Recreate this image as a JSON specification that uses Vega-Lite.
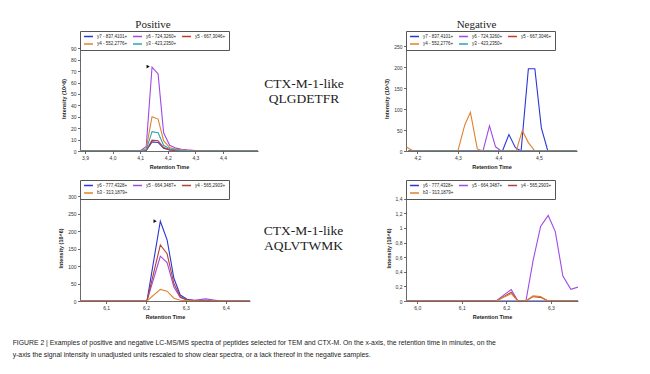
{
  "$schema": "https://vega.github.io/schema/vega-lite/v6.json",
  "background": "white",
  "padding": {"left": 12, "top": 19, "right": 5, "bottom": 5},
  "title": {
    "text": ["FIGURE 2 | Examples of positive and negative LC-MS/MS spectra of peptides selected for TEM and CTX-M. On the x-axis, the retention time in minutes, on the", "y-axis the signal intensity in unadjusted units rescaled to show clear spectra, or a lack thereof in the negative samples."],
    "orient": "bottom", "anchor": "start", "dx": -46, "offset": 20,
    "font": "Liberation Sans", "fontSize": 6.85, "fontWeight": "normal", "color": "#222", "lineHeight": 12.7
  },
  "bounds": "flush",
  "align": "none",
  "columns": 3,
  "spacing": {"row": 44, "column": 0},
  "resolve": {"scale": {"color": "independent"}, "legend": {"color": "independent"}},
  "concat": [
    {
      "width": 178, "height": 105,
      "title": {"text": "Positive", "dx": -16, "offset": 0.5},
      "encoding": {
        "x": {"field": "t", "type": "quantitative", "scale": {"domain": [3.882, 4.527], "nice": false, "zero": false},
              "axis": {"title": "Retention Time", "values": [3.9, 4.0, 4.1, 4.2, 4.3, 4.4], "labelOverlap": false, "labelExpr": "replace(format(datum.value, '.1f'), '.', ',')"}},
        "y": {"field": "i", "type": "quantitative", "scale": {"domain": [0, 92], "nice": false},
              "axis": {"title": "Intensity (10^6)", "values": [0, 10, 20, 30, 40, 50, 60, 70, 80, 90], "labelOverlap": false}}
      },
      "layer": [
        {
          "data": {"name": "pos1"},
          "mark": {"type": "line", "strokeWidth": 1.1, "clip": true},
          "encoding": {
            "color": {"field": "ion", "type": "nominal",
                      "scale": {"domain": ["y7 - 837,4101+", "y6 - 724,3260+", "y5 - 667,3046+", "y4 - 552,2776+", "y3 - 423,2350+"],
                                "range": ["#2b35d6", "#a04ae6", "#c23b22", "#e0822e", "#2fa3b5"]}}
          }
        },
        {
          "data": {"name": "mk1"},
          "mark": {"type": "point", "shape": "triangle-right", "filled": true, "color": "#111", "size": 14, "opacity": 1}
        }
      ]
    },
    {
      "width": 148, "height": 105,
      "data": {"values": [{"n": 1, "c": 0, "label": "CTX-M-1-like"}, {"n": 2, "c": 0, "label": "QLGDETFR"}]},
      "mark": {"type": "text", "font": "Liberation Serif", "fontSize": 13.5, "color": "#222"},
      "encoding": {
        "text": {"field": "label"},
        "x": {"field": "c", "type": "quantitative", "scale": {"domain": [-0.3108, 0.6892], "nice": false, "zero": false}, "axis": null},
        "y": {"field": "n", "type": "quantitative", "scale": {"domain": [-1.55, 5.45], "nice": false, "zero": false, "reverse": true}, "axis": null}
      }
    },
    {
      "width": 171, "height": 105,
      "title": {"text": "Negative", "dx": -15, "offset": 0.5},
      "data": {"name": "neg1"},
      "mark": {"type": "line", "strokeWidth": 1.1, "clip": true},
      "encoding": {
        "x": {"field": "t", "type": "quantitative", "scale": {"domain": [4.172, 4.594], "nice": false, "zero": false},
              "axis": {"title": "Retention Time", "values": [4.2, 4.3, 4.4, 4.5], "labelExpr": "replace(format(datum.value, '.1f'), '.', ',')"}},
        "y": {"field": "i", "type": "quantitative", "scale": {"domain": [0, 250], "nice": false},
              "axis": {"title": "Intensity (10^3)", "values": [0, 50, 100, 150, 200, 250]}},
        "color": {"field": "ion", "type": "nominal",
                  "scale": {"domain": ["y7 - 837,4101+", "y6 - 724,3260+", "y5 - 667,3046+", "y4 - 552,2776+", "y3 - 423,2350+"],
                            "range": ["#2b35d6", "#a04ae6", "#c23b22", "#e0822e", "#2fa3b5"]}}
      }
    },
    {
      "width": 170, "height": 106,
      "encoding": {
        "x": {"field": "t", "type": "quantitative", "scale": {"domain": [6.0345, 6.461], "nice": false, "zero": false},
              "axis": {"title": "Retention Time", "values": [6.1, 6.2, 6.3, 6.4], "labelOverlap": false, "labelExpr": "replace(format(datum.value, '.1f'), '.', ',')"}},
        "y": {"field": "i", "type": "quantitative", "scale": {"domain": [0, 303], "nice": false},
              "axis": {"title": "Intensity (10^6)", "values": [0, 50, 100, 150, 200, 250, 300], "labelOverlap": false}}
      },
      "layer": [
        {
          "data": {"name": "pos2"},
          "mark": {"type": "line", "strokeWidth": 1.1, "clip": true},
          "encoding": {
            "color": {"field": "ion", "type": "nominal",
                      "scale": {"domain": ["y6 - 777,4328+", "y5 - 664,3487+", "y4 - 565,2903+", "b3 - 313,1879+"],
                                "range": ["#2b35d6", "#a04ae6", "#b5432f", "#e0822e"]}}
          }
        },
        {
          "data": {"name": "mk2"},
          "mark": {"type": "point", "shape": "triangle-right", "filled": true, "color": "#111", "size": 14, "opacity": 1}
        }
      ]
    },
    {
      "width": 148, "height": 106,
      "data": {"values": [{"n": 1, "c": 0, "label": "CTX-M-1-like"}, {"n": 2, "c": 0, "label": "AQLVTWMK"}]},
      "mark": {"type": "text", "font": "Liberation Serif", "fontSize": 13.5, "color": "#222"},
      "encoding": {
        "text": {"field": "label"},
        "x": {"field": "c", "type": "quantitative", "scale": {"domain": [-0.3074, 0.6926], "nice": false, "zero": false}, "axis": null},
        "y": {"field": "n", "type": "quantitative", "scale": {"domain": [-1.43, 5.64], "nice": false, "zero": false, "reverse": true}, "axis": null}
      }
    },
    {
      "width": 172, "height": 106,
      "data": {"name": "neg2"},
      "mark": {"type": "line", "strokeWidth": 1.1, "clip": true},
      "encoding": {
        "x": {"field": "t", "type": "quantitative", "scale": {"domain": [5.9746, 6.361], "nice": false, "zero": false},
              "axis": {"title": "Retention Time", "values": [6.0, 6.1, 6.2, 6.3], "labelExpr": "replace(format(datum.value, '.1f'), '.', ',')"}},
        "y": {"field": "i", "type": "quantitative", "scale": {"domain": [0, 1.45], "nice": false},
              "axis": {"title": "Intensity (10^6)", "values": [0, 0.2, 0.4, 0.6, 0.8, 1, 1.2, 1.4], "labelExpr": "replace(format(datum.value, '~g'), '.', ',')"}},
        "color": {"field": "ion", "type": "nominal",
                  "scale": {"domain": ["y6 - 777,4328+", "y5 - 664,3487+", "y4 - 565,2903+", "b3 - 313,1879+"],
                            "range": ["#2b35d6", "#a04ae6", "#b5432f", "#e0822e"]}}
      }
    }
  ],
  "datasets": {
    "mk1": [{"t": 4.129, "i": 74}],
    "mk2": [{"t": 6.223, "i": 228}],
    "pos1": [
      {"ion": "y7 - 837,4101+", "t": 3.882, "i": 0}, {"ion": "y7 - 837,4101+", "t": 4.1, "i": 0}, {"ion": "y7 - 837,4101+", "t": 4.122, "i": 0.5}, {"ion": "y7 - 837,4101+", "t": 4.143, "i": 8}, {"ion": "y7 - 837,4101+", "t": 4.165, "i": 7.5}, {"ion": "y7 - 837,4101+", "t": 4.185, "i": 2.5}, {"ion": "y7 - 837,4101+", "t": 4.207, "i": 1}, {"ion": "y7 - 837,4101+", "t": 4.23, "i": 0.5}, {"ion": "y7 - 837,4101+", "t": 4.25, "i": 0}, {"ion": "y7 - 837,4101+", "t": 4.527, "i": 0},
      {"ion": "y6 - 724,3260+", "t": 3.882, "i": 0}, {"ion": "y6 - 724,3260+", "t": 4.1, "i": 0}, {"ion": "y6 - 724,3260+", "t": 4.122, "i": 4}, {"ion": "y6 - 724,3260+", "t": 4.143, "i": 73.5}, {"ion": "y6 - 724,3260+", "t": 4.165, "i": 67.5}, {"ion": "y6 - 724,3260+", "t": 4.185, "i": 16}, {"ion": "y6 - 724,3260+", "t": 4.207, "i": 5}, {"ion": "y6 - 724,3260+", "t": 4.23, "i": 2.5}, {"ion": "y6 - 724,3260+", "t": 4.25, "i": 1.5}, {"ion": "y6 - 724,3260+", "t": 4.27, "i": 1}, {"ion": "y6 - 724,3260+", "t": 4.3, "i": 0.5}, {"ion": "y6 - 724,3260+", "t": 4.32, "i": 0}, {"ion": "y6 - 724,3260+", "t": 4.527, "i": 0},
      {"ion": "y5 - 667,3046+", "t": 3.882, "i": 0}, {"ion": "y5 - 667,3046+", "t": 4.1, "i": 0}, {"ion": "y5 - 667,3046+", "t": 4.122, "i": 0.5}, {"ion": "y5 - 667,3046+", "t": 4.143, "i": 9.5}, {"ion": "y5 - 667,3046+", "t": 4.165, "i": 9}, {"ion": "y5 - 667,3046+", "t": 4.185, "i": 3}, {"ion": "y5 - 667,3046+", "t": 4.207, "i": 1}, {"ion": "y5 - 667,3046+", "t": 4.23, "i": 0.5}, {"ion": "y5 - 667,3046+", "t": 4.25, "i": 0.3}, {"ion": "y5 - 667,3046+", "t": 4.27, "i": 0}, {"ion": "y5 - 667,3046+", "t": 4.527, "i": 0},
      {"ion": "y4 - 552,2776+", "t": 3.882, "i": 0}, {"ion": "y4 - 552,2776+", "t": 4.1, "i": 0}, {"ion": "y4 - 552,2776+", "t": 4.122, "i": 2}, {"ion": "y4 - 552,2776+", "t": 4.143, "i": 30}, {"ion": "y4 - 552,2776+", "t": 4.165, "i": 28}, {"ion": "y4 - 552,2776+", "t": 4.185, "i": 9}, {"ion": "y4 - 552,2776+", "t": 4.207, "i": 3}, {"ion": "y4 - 552,2776+", "t": 4.23, "i": 1.5}, {"ion": "y4 - 552,2776+", "t": 4.25, "i": 1}, {"ion": "y4 - 552,2776+", "t": 4.27, "i": 0.5}, {"ion": "y4 - 552,2776+", "t": 4.3, "i": 0}, {"ion": "y4 - 552,2776+", "t": 4.527, "i": 0},
      {"ion": "y3 - 423,2350+", "t": 3.882, "i": 0}, {"ion": "y3 - 423,2350+", "t": 4.1, "i": 0}, {"ion": "y3 - 423,2350+", "t": 4.122, "i": 1}, {"ion": "y3 - 423,2350+", "t": 4.143, "i": 17}, {"ion": "y3 - 423,2350+", "t": 4.165, "i": 16}, {"ion": "y3 - 423,2350+", "t": 4.185, "i": 5}, {"ion": "y3 - 423,2350+", "t": 4.207, "i": 2}, {"ion": "y3 - 423,2350+", "t": 4.23, "i": 1}, {"ion": "y3 - 423,2350+", "t": 4.25, "i": 0.5}, {"ion": "y3 - 423,2350+", "t": 4.27, "i": 0}, {"ion": "y3 - 423,2350+", "t": 4.527, "i": 0}
    ],
    "neg1": [
      {"ion": "y7 - 837,4101+", "t": 4.177, "i": 0}, {"ion": "y7 - 837,4101+", "t": 4.41, "i": 0}, {"ion": "y7 - 837,4101+", "t": 4.426, "i": 39}, {"ion": "y7 - 837,4101+", "t": 4.442, "i": 8}, {"ion": "y7 - 837,4101+", "t": 4.456, "i": 0}, {"ion": "y7 - 837,4101+", "t": 4.474, "i": 196}, {"ion": "y7 - 837,4101+", "t": 4.49, "i": 196}, {"ion": "y7 - 837,4101+", "t": 4.506, "i": 55}, {"ion": "y7 - 837,4101+", "t": 4.522, "i": 0}, {"ion": "y7 - 837,4101+", "t": 4.594, "i": 0},
      {"ion": "y6 - 724,3260+", "t": 4.177, "i": 0}, {"ion": "y6 - 724,3260+", "t": 4.362, "i": 0}, {"ion": "y6 - 724,3260+", "t": 4.378, "i": 60}, {"ion": "y6 - 724,3260+", "t": 4.393, "i": 10}, {"ion": "y6 - 724,3260+", "t": 4.407, "i": 0}, {"ion": "y6 - 724,3260+", "t": 4.594, "i": 0},
      {"ion": "y5 - 667,3046+", "t": 4.177, "i": 0}, {"ion": "y5 - 667,3046+", "t": 4.594, "i": 0},
      {"ion": "y4 - 552,2776+", "t": 4.174, "i": 9}, {"ion": "y4 - 552,2776+", "t": 4.19, "i": 0}, {"ion": "y4 - 552,2776+", "t": 4.3, "i": 0}, {"ion": "y4 - 552,2776+", "t": 4.317, "i": 62}, {"ion": "y4 - 552,2776+", "t": 4.331, "i": 92}, {"ion": "y4 - 552,2776+", "t": 4.348, "i": 5}, {"ion": "y4 - 552,2776+", "t": 4.362, "i": 0}, {"ion": "y4 - 552,2776+", "t": 4.444, "i": 0}, {"ion": "y4 - 552,2776+", "t": 4.459, "i": 49}, {"ion": "y4 - 552,2776+", "t": 4.474, "i": 20}, {"ion": "y4 - 552,2776+", "t": 4.49, "i": 0}, {"ion": "y4 - 552,2776+", "t": 4.594, "i": 0},
      {"ion": "y3 - 423,2350+", "t": 4.177, "i": 0}, {"ion": "y3 - 423,2350+", "t": 4.594, "i": 0}
    ],
    "pos2": [
      {"ion": "y6 - 777,4328+", "t": 6.0345, "i": 0}, {"ion": "y6 - 777,4328+", "t": 6.2025, "i": 0}, {"ion": "y6 - 777,4328+", "t": 6.236, "i": 228}, {"ion": "y6 - 777,4328+", "t": 6.253, "i": 175}, {"ion": "y6 - 777,4328+", "t": 6.27, "i": 65}, {"ion": "y6 - 777,4328+", "t": 6.286, "i": 17}, {"ion": "y6 - 777,4328+", "t": 6.303, "i": 5}, {"ion": "y6 - 777,4328+", "t": 6.32, "i": 2}, {"ion": "y6 - 777,4328+", "t": 6.336, "i": 1}, {"ion": "y6 - 777,4328+", "t": 6.35, "i": 1}, {"ion": "y6 - 777,4328+", "t": 6.37, "i": 0.5}, {"ion": "y6 - 777,4328+", "t": 6.39, "i": 0}, {"ion": "y6 - 777,4328+", "t": 6.461, "i": 0},
      {"ion": "y5 - 664,3487+", "t": 6.0345, "i": 0}, {"ion": "y5 - 664,3487+", "t": 6.2025, "i": 0}, {"ion": "y5 - 664,3487+", "t": 6.236, "i": 128}, {"ion": "y5 - 664,3487+", "t": 6.253, "i": 110}, {"ion": "y5 - 664,3487+", "t": 6.27, "i": 40}, {"ion": "y5 - 664,3487+", "t": 6.286, "i": 10}, {"ion": "y5 - 664,3487+", "t": 6.303, "i": 3}, {"ion": "y5 - 664,3487+", "t": 6.32, "i": 2}, {"ion": "y5 - 664,3487+", "t": 6.336, "i": 4}, {"ion": "y5 - 664,3487+", "t": 6.35, "i": 6}, {"ion": "y5 - 664,3487+", "t": 6.37, "i": 3}, {"ion": "y5 - 664,3487+", "t": 6.39, "i": 0}, {"ion": "y5 - 664,3487+", "t": 6.461, "i": 0},
      {"ion": "y4 - 565,2903+", "t": 6.0345, "i": 0}, {"ion": "y4 - 565,2903+", "t": 6.2025, "i": 0}, {"ion": "y4 - 565,2903+", "t": 6.236, "i": 160}, {"ion": "y4 - 565,2903+", "t": 6.253, "i": 135}, {"ion": "y4 - 565,2903+", "t": 6.27, "i": 50}, {"ion": "y4 - 565,2903+", "t": 6.286, "i": 12}, {"ion": "y4 - 565,2903+", "t": 6.303, "i": 3}, {"ion": "y4 - 565,2903+", "t": 6.32, "i": 1}, {"ion": "y4 - 565,2903+", "t": 6.336, "i": 0.5}, {"ion": "y4 - 565,2903+", "t": 6.35, "i": 0.5}, {"ion": "y4 - 565,2903+", "t": 6.37, "i": 0}, {"ion": "y4 - 565,2903+", "t": 6.461, "i": 0},
      {"ion": "b3 - 313,1879+", "t": 6.0345, "i": 0}, {"ion": "b3 - 313,1879+", "t": 6.2025, "i": 0}, {"ion": "b3 - 313,1879+", "t": 6.236, "i": 33}, {"ion": "b3 - 313,1879+", "t": 6.253, "i": 28}, {"ion": "b3 - 313,1879+", "t": 6.27, "i": 8}, {"ion": "b3 - 313,1879+", "t": 6.286, "i": 2}, {"ion": "b3 - 313,1879+", "t": 6.303, "i": 1}, {"ion": "b3 - 313,1879+", "t": 6.32, "i": 0}, {"ion": "b3 - 313,1879+", "t": 6.461, "i": 0}
    ],
    "neg2": [
      {"ion": "y6 - 777,4328+", "t": 5.9746, "i": 0}, {"ion": "y6 - 777,4328+", "t": 6.361, "i": 0},
      {"ion": "y5 - 664,3487+", "t": 5.9746, "i": 0}, {"ion": "y5 - 664,3487+", "t": 6.1775, "i": 0}, {"ion": "y5 - 664,3487+", "t": 6.194, "i": 0.08}, {"ion": "y5 - 664,3487+", "t": 6.211, "i": 0.158}, {"ion": "y5 - 664,3487+", "t": 6.226, "i": 0}, {"ion": "y5 - 664,3487+", "t": 6.244, "i": 0}, {"ion": "y5 - 664,3487+", "t": 6.26, "i": 0.55}, {"ion": "y5 - 664,3487+", "t": 6.277, "i": 1.02}, {"ion": "y5 - 664,3487+", "t": 6.294, "i": 1.17}, {"ion": "y5 - 664,3487+", "t": 6.31, "i": 0.95}, {"ion": "y5 - 664,3487+", "t": 6.327, "i": 0.34}, {"ion": "y5 - 664,3487+", "t": 6.345, "i": 0.16}, {"ion": "y5 - 664,3487+", "t": 6.361, "i": 0.19},
      {"ion": "y4 - 565,2903+", "t": 5.9746, "i": 0}, {"ion": "y4 - 565,2903+", "t": 6.1775, "i": 0}, {"ion": "y4 - 565,2903+", "t": 6.194, "i": 0.06}, {"ion": "y4 - 565,2903+", "t": 6.211, "i": 0.12}, {"ion": "y4 - 565,2903+", "t": 6.226, "i": 0}, {"ion": "y4 - 565,2903+", "t": 6.244, "i": 0}, {"ion": "y4 - 565,2903+", "t": 6.26, "i": 0.06}, {"ion": "y4 - 565,2903+", "t": 6.277, "i": 0.05}, {"ion": "y4 - 565,2903+", "t": 6.294, "i": 0}, {"ion": "y4 - 565,2903+", "t": 6.361, "i": 0},
      {"ion": "b3 - 313,1879+", "t": 5.9746, "i": 0}, {"ion": "b3 - 313,1879+", "t": 6.1775, "i": 0}, {"ion": "b3 - 313,1879+", "t": 6.194, "i": 0.05}, {"ion": "b3 - 313,1879+", "t": 6.211, "i": 0.1}, {"ion": "b3 - 313,1879+", "t": 6.226, "i": 0}, {"ion": "b3 - 313,1879+", "t": 6.244, "i": 0}, {"ion": "b3 - 313,1879+", "t": 6.26, "i": 0.07}, {"ion": "b3 - 313,1879+", "t": 6.277, "i": 0.06}, {"ion": "b3 - 313,1879+", "t": 6.294, "i": 0}, {"ion": "b3 - 313,1879+", "t": 6.361, "i": 0}
    ]
  },
  "config": {
    "view": {"stroke": null},
    "font": "Liberation Sans",
    "axis": {"labelFontSize": 5, "labelColor": "#333", "titleFontSize": 5.5, "titleFontWeight": "bold", "titleColor": "#222",
             "domainColor": "#444", "tickColor": "#444", "tickSize": 2.5, "grid": false, "labelPadding": 1.5,
             "domainWidth": 0.8, "tickWidth": 0.8, "labelFlush": false, "labelOverlap": false, "titlePadding": 4},
    "legend": {"orient": "top", "columns": 3, "title": null, "labelFontSize": 4.5, "labelColor": "#222",
               "symbolType": "stroke", "symbolStrokeWidth": 1.5, "symbolSize": 80, "strokeColor": "#555", "clipHeight": 5,
               "padding": 3, "rowPadding": 1.5, "columnPadding": 4, "labelOffset": 3, "offset": -4},
    "title": {"font": "Liberation Serif", "fontSize": 11, "fontWeight": "normal", "color": "#222"}
  }
}
